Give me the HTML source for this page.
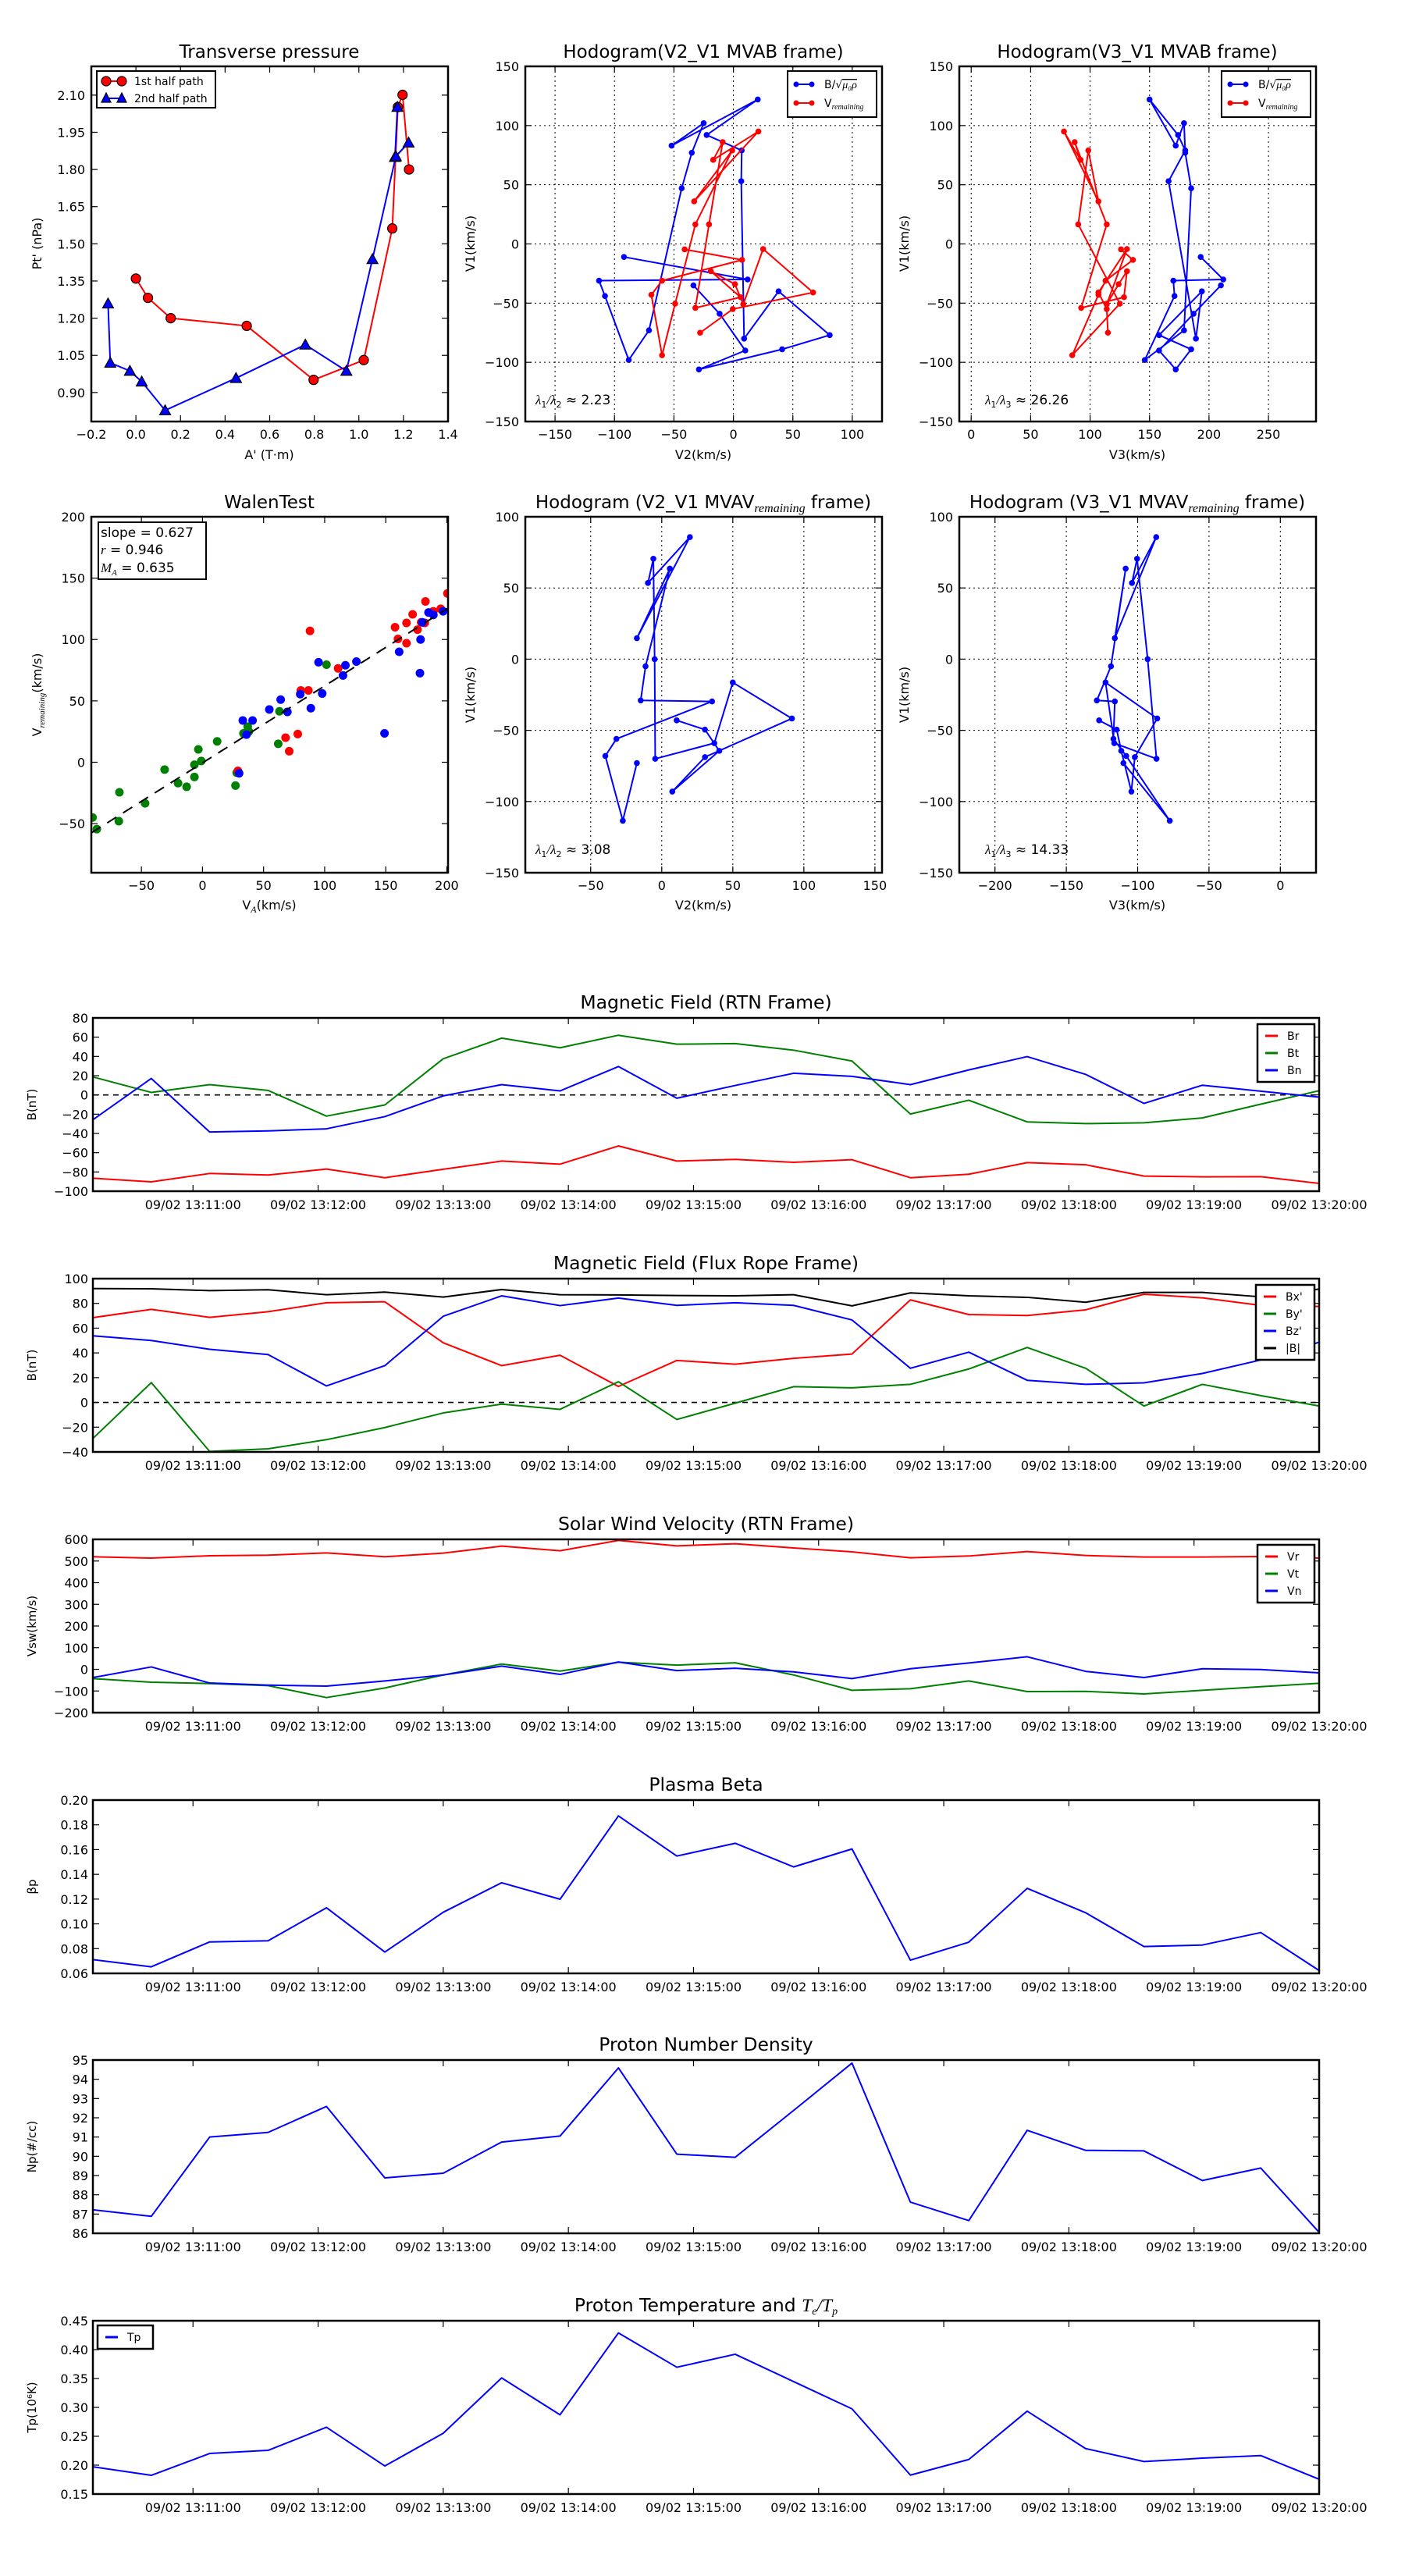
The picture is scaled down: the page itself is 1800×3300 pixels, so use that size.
<!DOCTYPE html>
<html><head><meta charset="utf-8"><title>Flux rope analysis</title>
<style>
html,body{margin:0;padding:0;background:#fff;}
svg{display:block;font-family:"DejaVu Sans","Liberation Sans",sans-serif;}
</style></head>
<body>
<svg id="fig" xmlns="http://www.w3.org/2000/svg" width="1800" height="3300" viewBox="0 0 1800 3300">
<rect x="0" y="0" width="1800" height="3300" fill="#fff"/>
</svg>
<script>
// ================= DATA =================
// Transverse pressure
const tpRedA = [1.225,1.196,1.175,1.15,1.022,0.797,0.497,0.156,0.054,0.0];
const tpRedP = [1.80,2.101,2.052,1.562,1.031,0.951,1.169,1.20,1.282,1.36];
const tpBlueA = [1.173,1.162,1.223,1.166,1.061,0.944,0.76,0.449,0.131,0.026,-0.027,-0.115,-0.125];
const tpBlueP = [2.052,1.85,1.908,1.853,1.438,0.987,1.093,0.958,0.828,0.944,0.987,1.02,1.259];
const tpXTicks = [-0.2,0,0.2,0.4,0.6,0.8,1.0,1.2,1.4];
const tpYTicks = [0.90,1.05,1.20,1.35,1.50,1.65,1.80,1.95,2.10];

// Hodogram MVAB (V1, V2, V3) - B series
const hbV1 = [-11,-30,-31,-44,-98,-73,47,77,102,83,122,92,79,53,-80,-40,-77,-89,-106,-90,-59,-35];
const hbV2 = [-92,12,-113,-108,-88,-71,-43.5,-35,-25,-52,20.5,-22.5,7,6.6,9,38,81,41,-29,10,-11.6,-33.6];
const hbV3 = [193,212,170,171,146,179,185,180,179,172,150,174,180,166,189,194,158,185,172,158,187,210];
// Hodogram MVAB - V remaining series
const hvV1 = [-4.6,-13.5,-31,-43,-94,-50.5,16.5,79,36,95,71,86,16.5,-54,-45,-23,-34,-51,-4.3,-41,-55,-75];
const hvV2 = [-41,7.3,-60,-69,-60,-49,-32,-1,-33,21,-17,-9,-20.5,-32,6,-19,1.3,8.3,25,67,-0.5,-28];
const hvV3 = [126,136,113,107,85,125,90,98.5,107,78,92,87,114,92.5,128.5,131,124,114,131,107,114,115];
const hodoTicksA = [-150,-100,-50,0,50,100,150];
const hodoTicksV3 = [0,50,100,150,200,250];

// Walen test
const walGreenX = [-90,-86.5,-68.5,-68,-47,-31,-20,-13,-6.6,-6.6,-3.4,-1,12,27,28,33.5,37,38,62,63,101.5];
const walGreenY = [-45,-54.5,-48,-24.5,-33.5,-6,-17,-20,-2,-12,10.5,1,17,-19,-8.5,23.5,29,25,15,41.5,79.5];
const walRedX = [29,68,71,78,80.5,86.7,88,111,157.6,160,167,167,172,176,179,182,182.5,189,195,200.5];
const walRedY = [-7,20,9,23,58.5,58.5,107,76.5,110,100.5,97,113.5,120.5,108,114,113.5,131,123,125,137.5];
const walBlueX = [30,33,36,41,54.7,64,69.5,80,88.7,95,98,115,117,126,149,161,178,178.5,180,185,189,197];
const walBlueY = [-9,34,22.5,34,43,51,41,55.5,44,81.5,56,70.7,79,82,23.5,90,72.6,100,114,122,120,123];
const walFit = [0.627,-0.5];
const walXTicks = [-50,0,50,100,150,200];
const walYTicks = [-50,0,50,100,150,200];

// Hodogram MVAV remaining
const hrV1 = [-43,-49.5,-64.4,-93,-68.8,-41.7,-16.4,-59,-70,0,70.5,53.5,85.7,14.7,63.6,-5,-29,-29.7,-56,-68,-113.5,-73];
const hrV2 = [10.5,30.4,40.5,7.4,30.4,91.6,50,37,-4.6,-5,-5.9,-9.7,19.8,-17.5,5.7,-11.4,-14.8,35.4,-31.9,-39.7,-27.4,-17.5];
const hrV3 = [-127,-114.7,-111.5,-104.4,-102,-86.3,-122.5,-116.4,-86.8,-93,-100.4,-104,-87,-116,-108.4,-118.7,-128.6,-116,-117,-108,-77.5,-110];
const hr2XTicks = [-50,0,50,100,150];
const hr3XTicks = [-200,-150,-100,-50,0];
const hrYTicks = [-150,-100,-50,0,50,100];

// Time series
const times = ["13:10:12","13:10:40","13:11:08","13:11:36","13:12:04","13:12:32","13:13:00","13:13:28","13:13:56","13:14:24","13:14:52","13:15:20","13:15:48","13:16:16","13:16:44","13:17:12","13:17:40","13:18:08","13:18:36","13:19:04","13:19:32","13:20:00"];
const timeTickLabels = ["09/02 13:11:00","09/02 13:12:00","09/02 13:13:00","09/02 13:14:00","09/02 13:15:00","09/02 13:16:00","09/02 13:17:00","09/02 13:18:00","09/02 13:19:00","09/02 13:20:00"];
const Br = [-86.5,-90.3,-81.6,-83.2,-77,-86,-77.2,-68.7,-71.9,-53,-68.7,-67,-70,-67.3,-86,-82.4,-70.3,-72.5,-84.3,-85.1,-84.9,-91.9];
const Bt = [18.7,2.6,10.7,4.7,-22,-10.4,37.6,59,49,62,52.7,53.3,46.5,35.2,-19.8,-5.5,-28,-29.8,-29,-23.9,-9.6,4.4];
const Bn = [-25.8,17.1,-38.5,-37.4,-35.2,-22.5,-1,10.7,4.2,29.5,-3.4,9.8,22.5,19.3,10.7,26,39.8,21.4,-8.8,10.1,3.9,-2.3];
const BxF = [68.5,75.2,68.7,73.3,80.5,81.3,48.2,29.7,38.1,12.9,33.9,30.9,35.6,39.1,82.8,71,70.2,74.8,87.4,84.5,78.4,77.5];
const ByF = [-29.1,16,-39.6,-37.5,-30.1,-20.3,-8.5,-1.4,-5.6,16.7,-13.8,-0.6,12.7,11.8,14.6,27,44.4,27.6,-2.9,14.6,5.5,-2.9];
const BzF = [53.8,50,42.9,38.7,13.3,29.7,69.6,86.1,78.2,84.3,78.4,80.5,78.4,66.6,27.6,40.6,17.9,14.6,15.8,23.4,34.3,48.6];
const Bmag = [92,91.8,90.3,91,87,89.1,85.1,91.2,87,86.8,86.4,86.1,87,78,88.5,86.1,84.9,80.9,88.9,88.9,85.3,91.6];
const Vr = [519.6,513.6,524.4,526.8,537.6,519.6,536.4,568.8,547.2,595.2,570,579.6,560.4,542.4,514.8,523.2,543.6,525.6,518.4,518.4,520.8,513.6];
const Vt = [-42.8,-59.6,-65.6,-75.2,-130.4,-86,-26,24.4,-8,32.7,19.5,30.3,-26,-96.8,-89.6,-53.6,-102.8,-101.6,-113.6,-96.8,-80,-64.4];
const Vn = [-38,11,-63.2,-72.8,-77.6,-53.6,-26,14.7,-23.6,33.9,-5.7,5.1,-11.7,-42.8,2.7,29.1,57.9,-9.3,-38,2.7,-0.9,-16.4];
const beta = [0.0711,0.0653,0.0854,0.0863,0.113,0.0772,0.1094,0.1332,0.1199,0.1872,0.1548,0.1651,0.146,0.1605,0.0707,0.0852,0.1287,0.109,0.0817,0.0829,0.093,0.0623];
const Np = [87.22,86.88,91.0,91.24,92.59,88.88,89.12,90.74,91.05,94.59,90.11,89.95,92.38,94.84,87.62,86.66,91.35,90.31,90.28,88.74,89.39,86.05];
const Tp = [0.1972,0.1824,0.2202,0.2256,0.2656,0.1986,0.2552,0.351,0.2872,0.4289,0.3695,0.392,0.3447,0.2975,0.1828,0.2098,0.2935,0.2287,0.2062,0.2121,0.2166,0.1756];
const yTicksB = [-100,-80,-60,-40,-20,0,20,40,60,80];
const yTicksBF = [-40,-20,0,20,40,60,80,100];
const yTicksV = [-200,-100,0,100,200,300,400,500,600];
const yTicksBeta = [0.06,0.08,0.10,0.12,0.14,0.16,0.18,0.20];
const yTicksNp = [86,87,88,89,90,91,92,93,94,95];
const yTicksTp = [0.15,0.20,0.25,0.30,0.35,0.40,0.45];

// ================= HELPERS =================
const NS = 'http://www.w3.org/2000/svg';
const svg = document.getElementById('fig');
function mk(tag, attrs, parent) {
  const e = document.createElementNS(NS, tag);
  for (const k in attrs) e.setAttribute(k, attrs[k]);
  (parent || svg).appendChild(e);
  return e;
}
function text(str, x, y, size, anchor, parent, name, extra) {
  const e = mk('text', Object.assign({x: x, y: y, 'font-size': size, 'text-anchor': anchor || 'middle', fill: '#000'}, extra || {}), parent);
  e.textContent = str;
  
  
  return e;
}
function fmtMinus(v, dec) {
  const s = dec == null ? String(v) : v.toFixed(dec);
  return s.replace('-', '\u2212');
}
function scaler(d0, d1, p0, p1) { return v => p0 + (v - d0) / (d1 - d0) * (p1 - p0); }

function axesBox(name, box, xd, yd, xticks, yticks, xdec, ydec, grid, tickSize) {
  const g = mk('g', {});
  
  
  const sx = scaler(xd[0], xd[1], box[0], box[2]);
  const sy = scaler(yd[0], yd[1], box[3], box[1]);
  const fs = tickSize || 16;
  xticks.forEach(v => {
    const x = sx(v);
    if (grid) {
      const gl = mk('line', {x1: x, y1: box[1], x2: x, y2: box[3], stroke: '#000', 'stroke-width': 1, 'stroke-dasharray': '2,4'}, g);
      
      
    }
    const t1 = mk('line', {x1: x, y1: box[3], x2: x, y2: box[3] - 8, stroke: '#000', 'stroke-width': 1.2}, g);
    
    
    const t2 = mk('line', {x1: x, y1: box[1], x2: x, y2: box[1] + 8, stroke: '#000', 'stroke-width': 1.2}, g);
    
    
    text(fmtMinus(v, xdec), x, box[3] + 22, fs, 'middle', g, 'x-tick-label');
  });
  yticks.forEach(v => {
    const y = sy(v);
    if (grid) {
      const gl = mk('line', {x1: box[0], y1: y, x2: box[2], y2: y, stroke: '#000', 'stroke-width': 1, 'stroke-dasharray': '2,4'}, g);
      
      
    }
    const t1 = mk('line', {x1: box[0], y1: y, x2: box[0] + 8, y2: y, stroke: '#000', 'stroke-width': 1.2}, g);
    
    
    const t2 = mk('line', {x1: box[2], y1: y, x2: box[2] - 8, y2: y, stroke: '#000', 'stroke-width': 1.2}, g);
    
    
    text(fmtMinus(v, ydec), box[0] - 8, y + 6, fs, 'end', g, 'y-tick-label');
  });
  return {g: g, sx: sx, sy: sy};
}
function frame(box, g) {
  const r = mk('rect', {x: box[0], y: box[1], width: box[2] - box[0], height: box[3] - box[1], fill: 'none', stroke: '#000', 'stroke-width': 2.5}, g);
  
  
}
function clipFor(id, box) {
  const c = mk('clipPath', {id: id});
  mk('rect', {x: box[0], y: box[1], width: box[2] - box[0], height: box[3] - box[1]}, c);
  return 'url(#' + id + ')';
}
function polyline(xs, ys, ax, color, width, parent, name, clip) {
  const pts = xs.map((v, i) => ax.sx(v).toFixed(2) + ',' + ax.sy(ys[i]).toFixed(2)).join(' ');
  const p = mk('polyline', {points: pts, fill: 'none', stroke: color, 'stroke-width': width, 'stroke-linejoin': 'round'}, parent);
  if (clip) p.setAttribute('clip-path', clip);
  
  
  return p;
}
function dots(xs, ys, ax, color, r, parent, name, stroke, clip) {
  const g = mk('g', {}, parent);
  if (clip) g.setAttribute('clip-path', clip);
  
  
  xs.forEach((v, i) => {
    const c = mk('circle', {cx: ax.sx(v), cy: ax.sy(ys[i]), r: r, fill: color, stroke: stroke || 'none', 'stroke-width': stroke ? 1.2 : 0}, g);
    
    
  });
}
function tris(xs, ys, ax, color, s, parent, name) {
  const g = mk('g', {}, parent);
  
  
  xs.forEach((v, i) => {
    const x = ax.sx(v), y = ax.sy(ys[i]);
    const p = mk('polygon', {points: `${x},${y - s} ${x - s},${y + s * 0.8} ${x + s},${y + s * 0.8}`, fill: color, stroke: '#000', 'stroke-width': 1.2}, g);
    
    
  });
}
function rotLabel(str, x, y, size, parent, name) {
  const e = text(str, x, y, size, 'middle', parent, name);
  e.setAttribute('transform', `rotate(-90 ${x} ${y})`);
  return e;
}

// ================= TOP ROW =================
(function () {
  const box = [117, 85, 574, 540];
  const ax = axesBox('transverse-pressure-chart', box, [-0.2, 1.4], [0.783, 2.216], tpXTicks, tpYTicks, 1, 2, false);
  const clip = clipFor('c1', box);
  text('Transverse pressure', 345, 74, 23, 'middle', ax.g, 'chart-title');
  text("A' (T\u00b7m)", 345, 588, 16, 'middle', ax.g, 'x-axis-title');
  rotLabel("Pt' (nPa)", 53, 312, 16, ax.g, 'y-axis-title');
  polyline(tpRedA, tpRedP, ax, '#f00', 2, ax.g, 'first-half-path-line', clip);
  polyline(tpBlueA, tpBlueP, ax, '#00f', 2, ax.g, 'second-half-path-line', clip);
  dots(tpRedA, tpRedP, ax, '#f00', 6, ax.g, 'first-half-path-markers', '#000', clip);
  tris(tpBlueA, tpBlueP, ax, '#00f', 7, ax.g, 'second-half-path-markers');
  frame(box, ax.g);
  const lg = mk('g', {}, ax.g);
  
  
  const lr = mk('rect', {x: 124, y: 91, width: 152, height: 47, fill: '#fff', stroke: '#000', 'stroke-width': 2}, lg);
  
  
  const l1 = mk('line', {x1: 136, y1: 104, x2: 156, y2: 104, stroke: '#f00', 'stroke-width': 2}, lg);
  
  
  [136, 156].forEach(x => { const c = mk('circle', {cx: x, cy: 104, r: 6, fill: '#f00', stroke: '#000', 'stroke-width': 1.2}, lg);   });
  text('1st half path', 172, 109, 14, 'start', lg, 'legend-entry');
  const l2 = mk('line', {x1: 136, y1: 126, x2: 156, y2: 126, stroke: '#00f', 'stroke-width': 2}, lg);
  
  
  [136, 156].forEach(x => { const p = mk('polygon', {points: `${x},${119} ${x - 6},${131} ${x + 6},${131}`, fill: '#00f', stroke: '#000', 'stroke-width': 1.2}, lg);   });
  text('2nd half path', 172, 131, 14, 'start', lg, 'legend-entry');
})();

function hodoLegend(parent, x0, y0) {
  const lg = mk('g', {}, parent);
  
  
  const lr = mk('rect', {x: x0, y: y0, width: 114, height: 59, fill: '#fff', stroke: '#000', 'stroke-width': 2}, lg);
  
  
  const rows = [['#00f', 17], ['#f00', 41]];
  rows.forEach(r => {
    const l = mk('line', {x1: x0 + 11, y1: y0 + r[1], x2: x0 + 31, y2: y0 + r[1], stroke: r[0], 'stroke-width': 2}, lg);
    
    
    [x0 + 11, x0 + 31].forEach(x => { const c = mk('circle', {cx: x, cy: y0 + r[1], r: 3.5, fill: r[0]}, lg);   });
  });
  const t1 = text('', x0 + 47, y0 + 22, 14, 'start', lg, 'legend-entry');
  t1.innerHTML = 'B/\u221a<tspan font-family="Liberation Serif, serif" font-style="italic" text-decoration="overline">\u03bc\u2080\u03c1</tspan>';
  const t2 = text('', x0 + 47, y0 + 46, 14, 'start', lg, 'legend-entry');
  t2.innerHTML = 'V<tspan font-family="Liberation Serif, serif" font-style="italic" font-size="10" dy="3">remaining</tspan>';
}
function ratioText(parent, x, y, sub, val) {
  const t = text('', x, y, 17, 'start', parent, 'eigenvalue-ratio-label');
  t.innerHTML = '<tspan font-family="Liberation Serif, serif" font-style="italic">\u03bb</tspan><tspan font-size="11" dy="4">1</tspan><tspan dy="-4" font-family="Liberation Serif, serif" font-style="italic">/\u03bb</tspan><tspan font-size="11" dy="4">' + sub + '</tspan><tspan dy="-4"> \u2248 ' + val + '</tspan>';
}

(function () {
  const box = [673, 85, 1130, 540];
  const ax = axesBox('hodogram-v2-v1-mvab-chart', box, [-175, 125], [-150, 150], hodoTicksA.slice(0, 6), hodoTicksA, null, null, true);
  const clip = clipFor('c2', box);
  text('Hodogram(V2_V1 MVAB frame)', 901, 74, 23, 'middle', ax.g, 'chart-title');
  text('V2(km/s)', 901, 588, 16, 'middle', ax.g, 'x-axis-title');
  rotLabel('V1(km/s)', 608, 312, 16, ax.g, 'y-axis-title');
  polyline(hbV2, hbV1, ax, '#00f', 2, ax.g, 'b-alfven-line', clip);
  dots(hbV2, hbV1, ax, '#00f', 3.8, ax.g, 'b-alfven-markers', null, clip);
  polyline(hvV2, hvV1, ax, '#f00', 2, ax.g, 'v-remaining-line', clip);
  dots(hvV2, hvV1, ax, '#f00', 3.8, ax.g, 'v-remaining-markers', null, clip);
  frame(box, ax.g);
  hodoLegend(ax.g, 1009, 91);
  ratioText(ax.g, 686, 518, '2', '2.23');
})();

(function () {
  const box = [1229, 85, 1686, 540];
  const ax = axesBox('hodogram-v3-v1-mvab-chart', box, [-10, 290], [-150, 150], hodoTicksV3, hodoTicksA, null, null, true);
  const clip = clipFor('c3', box);
  text('Hodogram(V3_V1 MVAB frame)', 1457, 74, 23, 'middle', ax.g, 'chart-title');
  text('V3(km/s)', 1457, 588, 16, 'middle', ax.g, 'x-axis-title');
  rotLabel('V1(km/s)', 1164, 312, 16, ax.g, 'y-axis-title');
  polyline(hbV3, hbV1, ax, '#00f', 2, ax.g, 'b-alfven-line', clip);
  dots(hbV3, hbV1, ax, '#00f', 3.8, ax.g, 'b-alfven-markers', null, clip);
  polyline(hvV3, hvV1, ax, '#f00', 2, ax.g, 'v-remaining-line', clip);
  dots(hvV3, hvV1, ax, '#f00', 3.8, ax.g, 'v-remaining-markers', null, clip);
  frame(box, ax.g);
  hodoLegend(ax.g, 1565, 91);
  ratioText(ax.g, 1262, 518, '3', '26.26');
})();

// ================= MIDDLE ROW =================
(function () {
  const box = [117, 662, 574, 1118];
  const ax = axesBox('walen-test-chart', box, [-91, 201], [-90, 200], walXTicks, walYTicks, null, null, false);
  const clip = clipFor('c4', box);
  text('WalenTest', 345, 651, 23, 'middle', ax.g, 'chart-title');
  const xl = text('', 345, 1165, 16, 'middle', ax.g, 'x-axis-title');
  xl.innerHTML = 'V<tspan font-family="Liberation Serif, serif" font-style="italic" font-size="12" dy="4">A</tspan><tspan dy="-4">(km/s)</tspan>';
  const yl = text('', 53, 890, 16, 'middle', ax.g, 'y-axis-title');
  yl.setAttribute('transform', 'rotate(-90 53 890)');
  yl.innerHTML = 'V<tspan font-family="Liberation Serif, serif" font-style="italic" font-size="11" dy="4">remaining</tspan><tspan dy="-4">(km/s)</tspan>';
  dots(walGreenX, walGreenY, ax, '#008000', 5.5, ax.g, 'walen-green-points', null, clip);
  dots(walRedX, walRedY, ax, '#f00', 5.5, ax.g, 'walen-red-points', null, clip);
  dots(walBlueX, walBlueY, ax, '#00f', 5.5, ax.g, 'walen-blue-points', null, clip);
  const fx = [-91, 201];
  const fy = fx.map(v => walFit[0] * v + walFit[1]);
  const fl = polyline(fx, fy, ax, '#000', 2, ax.g, 'regression-line', clip);
  fl.setAttribute('stroke-dasharray', '14,10');
  frame(box, ax.g);
  const bx = mk('g', {}, ax.g);
  
  
  const br = mk('rect', {x: 126, y: 669, width: 138, height: 73, fill: '#fff', stroke: '#000', 'stroke-width': 2}, bx);
  
  
  text('slope = 0.627', 129, 688, 17, 'start', bx, 'slope-label');
  const r = text('', 129, 710, 17, 'start', bx, 'correlation-label');
  r.innerHTML = '<tspan font-family="Liberation Serif, serif" font-style="italic">r</tspan> = 0.946';
  const m = text('', 129, 733, 17, 'start', bx, 'mach-number-label');
  m.innerHTML = '<tspan font-family="Liberation Serif, serif" font-style="italic">M</tspan><tspan font-family="Liberation Serif, serif" font-style="italic" font-size="11" dy="4">A</tspan><tspan dy="-4"> = 0.635</tspan>';
})();

function mvavTitle(parent, x, lab) {
  const t = text('', x, 651, 23, 'middle', parent, 'chart-title');
  t.innerHTML = 'Hodogram (' + lab + ' MVAV<tspan font-family="Liberation Serif, serif" font-style="italic" font-size="16" dy="5">remaining</tspan><tspan dy="-5"> frame)</tspan>';
}
(function () {
  const box = [673, 662, 1130, 1118];
  const ax = axesBox('hodogram-v2-v1-mvav-chart', box, [-96, 155], [-150, 100], hr2XTicks, hrYTicks, null, null, true);
  const clip = clipFor('c5', box);
  mvavTitle(ax.g, 901, 'V2_V1');
  text('V2(km/s)', 901, 1165, 16, 'middle', ax.g, 'x-axis-title');
  rotLabel('V1(km/s)', 608, 890, 16, ax.g, 'y-axis-title');
  polyline(hrV2, hrV1, ax, '#00f', 2, ax.g, 'b-alfven-line', clip);
  dots(hrV2, hrV1, ax, '#00f', 3.8, ax.g, 'b-alfven-markers', null, clip);
  frame(box, ax.g);
  ratioText(ax.g, 686, 1094, '2', '3.08');
})();
(function () {
  const box = [1229, 662, 1686, 1118];
  const ax = axesBox('hodogram-v3-v1-mvav-chart', box, [-225, 25], [-150, 100], hr3XTicks, hrYTicks, null, null, true);
  const clip = clipFor('c6', box);
  mvavTitle(ax.g, 1457, 'V3_V1');
  text('V3(km/s)', 1457, 1165, 16, 'middle', ax.g, 'x-axis-title');
  rotLabel('V1(km/s)', 1164, 890, 16, ax.g, 'y-axis-title');
  polyline(hrV3, hrV1, ax, '#00f', 2, ax.g, 'b-alfven-line', clip);
  dots(hrV3, hrV1, ax, '#00f', 3.8, ax.g, 'b-alfven-markers', null, clip);
  frame(box, ax.g);
  ratioText(ax.g, 1262, 1094, '3', '14.33');
})();

// ================= TIME SERIES =================
function secs(s) { const p = s.split(':'); return (+p[0] - 13) * 3600 + (+p[1] - 10) * 60 + (+p[2]); }
function timeSeries(cfg) {
  const L = 119, R = 1690, T = cfg.top, B = cfg.top + 222;
  const g = mk('g', {});
  
  
  const t0 = secs(times[0]), t1 = secs(times[times.length - 1]);
  const sx = scaler(t0, t1, L, R);
  const sy = scaler(cfg.yd[0], cfg.yd[1], B, T);
  const clip = clipFor('c' + cfg.name, [L, T, R, B]);
  const tt = text('', (L + R) / 2, T - 12, 23.5, 'middle', g, 'chart-title');
  tt.innerHTML = cfg.title;
  const yl = text(cfg.ylabel, 46, (T + B) / 2, 15, 'middle', g, 'y-axis-title');
  yl.setAttribute('transform', `rotate(-90 46 ${(T + B) / 2})`);
  timeTickLabels.forEach(lbl => {
    const x = sx(secs(lbl.split(' ')[1]));
    const a = mk('line', {x1: x, y1: B, x2: x, y2: B - 8, stroke: '#000', 'stroke-width': 1.2}, g);
    
    
    const b = mk('line', {x1: x, y1: T, x2: x, y2: T + 8, stroke: '#000', 'stroke-width': 1.2}, g);
    
    
    text(lbl, x, B + 23, 16, 'middle', g, 'x-tick-label');
  });
  cfg.yticks.forEach(v => {
    const y = sy(v);
    const a = mk('line', {x1: L, y1: y, x2: L + 8, y2: y, stroke: '#000', 'stroke-width': 1.2}, g);
    
    
    const b = mk('line', {x1: R, y1: y, x2: R - 8, y2: y, stroke: '#000', 'stroke-width': 1.2}, g);
    
    
    text(fmtMinus(v, cfg.ydec), L - 6, y + 6, 16, 'end', g, 'y-tick-label');
  });
  if (cfg.zero) {
    const z = mk('line', {x1: L, y1: sy(0), x2: R, y2: sy(0), stroke: '#000', 'stroke-width': 1.6, 'stroke-dasharray': '7,6'}, g);
    
    
  }
  const ax = {sx: v => sx(secs(v)), sy: sy};
  cfg.series.forEach(s => polyline(times, s.vals, ax, s.color, 2, g, s.name, clip));
  frame([L, T, R, B], g);
  if (cfg.legend) {
    const lgd = cfg.legend;
    const lg = mk('g', {}, g);
    
    
    const h = lgd.entries.length * 22 + 8;
    const r = mk('rect', {x: lgd.x, y: T + lgd.dy, width: lgd.w, height: h, fill: '#fff', stroke: '#000', 'stroke-width': 2.5}, lg);
    
    
    lgd.entries.forEach((e, i) => {
      const y = T + lgd.dy + 15 + i * 22;
      const l = mk('line', {x1: lgd.x + 10, y1: y, x2: lgd.x + 26, y2: y, stroke: e[1], 'stroke-width': 3}, lg);
      
      
      text(e[0], lgd.x + 38, y + 5, 14, 'start', lg, 'legend-entry');
    });
  }
}

timeSeries({name: 'magnetic-field-rtn-chart', top: 1304, title: 'Magnetic Field (RTN Frame)', ylabel: 'B(nT)', yd: [-100, 80], yticks: yTicksB, zero: true,
  series: [{vals: Br, color: '#f00', name: 'br-line'}, {vals: Bt, color: '#008000', name: 'bt-line'}, {vals: Bn, color: '#00f', name: 'bn-line'}],
  legend: {x: 1611, dy: 8, w: 73, entries: [['Br', '#f00'], ['Bt', '#008000'], ['Bn', '#00f']]}});
timeSeries({name: 'magnetic-field-flux-rope-chart', top: 1638, title: 'Magnetic Field (Flux Rope Frame)', ylabel: 'B(nT)', yd: [-40, 100], yticks: yTicksBF, zero: true,
  series: [{vals: BxF, color: '#f00', name: 'bx-line'}, {vals: ByF, color: '#008000', name: 'by-line'}, {vals: BzF, color: '#00f', name: 'bz-line'}, {vals: Bmag, color: '#000', name: 'b-magnitude-line'}],
  legend: {x: 1609, dy: 8, w: 75, entries: [["Bx'", '#f00'], ["By'", '#008000'], ["Bz'", '#00f'], ['|B|', '#000']]}});
timeSeries({name: 'solar-wind-velocity-chart', top: 1972, title: 'Solar Wind Velocity (RTN Frame)', ylabel: 'Vsw(km/s)', yd: [-200, 600], yticks: yTicksV, zero: false,
  series: [{vals: Vr, color: '#f00', name: 'vr-line'}, {vals: Vt, color: '#008000', name: 'vt-line'}, {vals: Vn, color: '#00f', name: 'vn-line'}],
  legend: {x: 1611, dy: 7, w: 73, entries: [['Vr', '#f00'], ['Vt', '#008000'], ['Vn', '#00f']]}});
timeSeries({name: 'plasma-beta-chart', top: 2306, title: 'Plasma Beta', ylabel: '\u03b2p', yd: [0.06, 0.20], yticks: yTicksBeta, ydec: 2, zero: false,
  series: [{vals: beta, color: '#00f', name: 'beta-line'}]});
timeSeries({name: 'proton-density-chart', top: 2639, title: 'Proton Number Density', ylabel: 'Np(#/cc)', yd: [86, 95], yticks: yTicksNp, zero: false,
  series: [{vals: Np, color: '#00f', name: 'density-line'}]});
timeSeries({name: 'proton-temperature-chart', top: 2973, title: 'Proton Temperature and <tspan font-family="Liberation Serif, serif" font-style="italic">T</tspan><tspan font-family="Liberation Serif, serif" font-style="italic" font-size="14" dy="4">e</tspan><tspan font-family="Liberation Serif, serif" font-style="italic" dy="-4">/T</tspan><tspan font-family="Liberation Serif, serif" font-style="italic" font-size="14" dy="4">p</tspan>', ylabel: 'Tp(10\u2076K)', yd: [0.15, 0.45], yticks: yTicksTp, ydec: 2, zero: false,
  series: [{vals: Tp, color: '#00f', name: 'tp-line'}],
  legend: {x: 125, dy: 6, w: 71, entries: [['Tp', '#00f']]}});
</script>
</body></html>
